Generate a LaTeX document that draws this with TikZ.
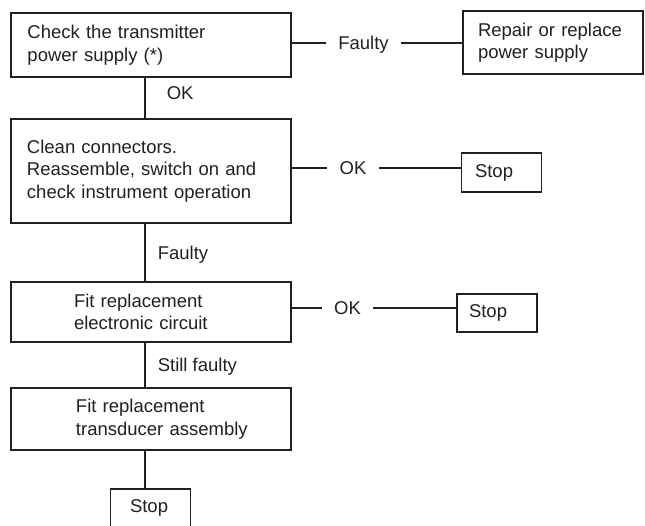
\documentclass[tikz,border=0pt]{standalone}
\usepackage{fontspec}
\setmainfont{Liberation Sans}
\usetikzlibrary{calc}
\definecolor{ink}{RGB}{35,31,32}
\newcommand{\chartfont}{\fontsize{18.5}{22.5}\selectfont}

\begin{document}
\begin{tikzpicture}[x=1pt,y=-1pt,
  action/.style={draw=ink,text=ink,line width=1.6pt,font=\chartfont,align=left,
    text width=250pt,inner xsep=15pt,inner ysep=0pt},
  stopbox/.style={action,text width=56pt,inner xsep=12pt,minimum height=38pt},
  indent/.style={execute at begin node={\leftskip=#1}},
  lbl/.style={text=ink,font=\chartfont,inner xsep=12pt,inner ysep=0pt,
    text height=13pt,text depth=0pt},
  link/.style={draw=ink,line width=1.6pt}]
  \useasboundingbox (0,0) rectangle (645,525);

  \node[action,minimum height=64pt,indent=1.5pt] (chk) at (151,45) {Check the transmitter\\power supply (*)};
  \node[action,text width=150pt,minimum height=63pt] (repair) at (553,42.5) {Repair or replace\\power supply};
  \node[action,minimum height=104pt,indent=1pt] (clean) at (151,171) {Clean connectors.\\Reassemble, switch on and\\check instrument operation};
  \node[stopbox,indent=1.5pt,minimum height=39pt] (stopA) at (501.5,172.5) {Stop};
  \node[action,minimum height=60pt,indent=48pt] (fitcirc) at (151,312) {Fit replacement\\electronic circuit};
  \node[stopbox] (stopB) at (497,313) {Stop};
  \node[action,minimum height=62pt,indent=50pt] (fittrans) at (151,419) {Fit replacement\\transducer assembly};
  \node[stopbox,indent=7.5pt] (stopC) at (150.5,508) {Stop};

  \node[lbl] (faultA) at (363.5,43) {Faulty};
  \node[lbl] (okB) at (353,168) {OK};
  \node[lbl] (okC) at (347.5,308) {OK};

  \draw[link] (chk.east |- faultA) -- (faultA) -- (faultA -| repair.west);
  \draw[link] (clean.east |- okB) -- (okB) -- (okB -| stopA.west);
  \draw[link] (fitcirc.east |- okC) -- (okC) -- (okC -| stopB.west);

  \draw[link] ([xshift=-6pt]chk.south) -- node[lbl,right,pos=0.38,xshift=9pt] (okA) {OK} ([xshift=-6pt]clean.north);
  \draw[link] ([xshift=-6pt]clean.south) -- node[lbl,right] (faultB) {Faulty} ([xshift=-6pt]fitcirc.north);
  \draw[link] ([xshift=-6pt]fitcirc.south) -- node[lbl,right] (still) {Still faulty} ([xshift=-6pt]fittrans.north);
  \draw[link] ([xshift=-6pt]fittrans.south) -- ([xshift=-6pt]fittrans.south |- stopC.north);
\end{tikzpicture}
\end{document}
